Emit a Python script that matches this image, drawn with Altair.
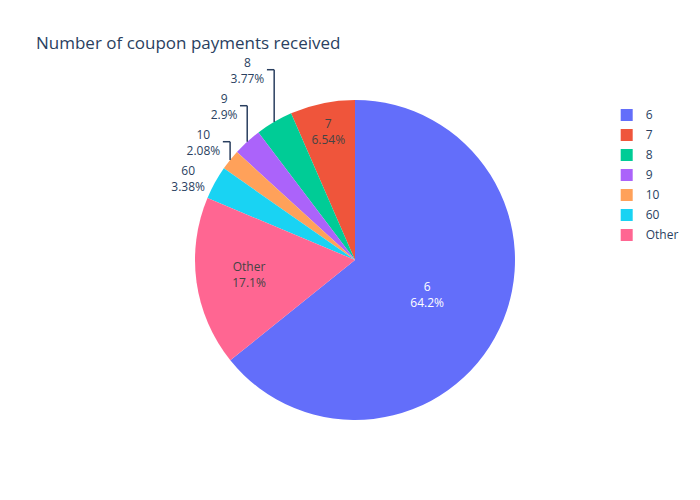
import math
import altair as alt
import pandas as pd

# ---------------- data ----------------
categories = ["6", "7", "8", "9", "10", "60", "Other"]
percents = [64.2, 6.54, 3.77, 2.9, 2.08, 3.38, 17.1]
colors = ["#636efa", "#EF553B", "#00cc96", "#ab63fa", "#FFA15A", "#19d3f3", "#FF6692"]
# drawing order, clockwise from 12 o'clock
clockwise_order = ["6", "Other", "60", "10", "9", "8", "7"]
inside_labels = ["6", "7", "Other"]
title_text = "Number of coupon payments received"

# ---------------- layout / style ----------------
PAD_TOP = 60
W, H = 684, 424
CX, CY = 347.0, 192.0          # pie centre in plot coords
R = 160.0
INSIDE_R = {"6": 80, "7": 131, "Other": 107}
FONT = "Open Sans"
FS = 12
LINE_H = 16
BOX_H = 35.0
STACK_GAP = 36.0
TEXT_DARK = "#2a3f5f"

CHAR_EM = {".": 0.266, "%": 0.846}
def text_width(s):
    return sum(CHAR_EM.get(c, 0.572) for c in s) * FS * 1.06

def is_dark(hexcol):
    h = hexcol.lstrip("#")
    r, g, b = int(h[0:2], 16), int(h[2:4], 16), int(h[4:6], 16)
    return (r * 299 + g * 587 + b * 114) / 1000 < 128

total = sum(percents)
pct = dict(zip(categories, percents))
col = dict(zip(categories, colors))
fmt = {c: f"{p:.3g}%" for c, p in zip(categories, percents)}

# angles
mid = {}
cum = 0.0
for c in clockwise_order:
    a0 = cum / total * 2 * math.pi
    cum += pct[c]
    a1 = cum / total * 2 * math.pi
    mid[c] = (a0 + a1) / 2

text_rows = []
outside = []
for c in categories:
    a = mid[c]
    label = f"{c}\n{fmt[c]}"
    if c in inside_labels:
        r = INSIDE_R[c]
        text_rows.append({"px": CX + r * math.sin(a), "py": CY - r * math.cos(a),
                          "txt": label, "tc": "white" if is_dark(col[c]) else "#444"})
    else:
        x = R * math.sin(a)
        y = -R * math.cos(a)
        w = max(text_width(c), text_width(fmt[c]))
        dx = w / 2 * (1 if x >= 0 else -1)
        dy = BOX_H / 2 * (1 if y >= 0 else -1)
        ox = dx + abs(dy) * (1 if dx > 0 else -1) / 2
        oy = dy / (1 + x * x / (y * y))
        outside.append({"c": c, "label": label, "mx": CX + x, "my": CY + y,
                        "lx": CX + x + ox, "ly0": CY + y + oy, "w": w,
                        "left": x < 0, "top": y < 0})

# resolve overlaps per quadrant
for left in (True, False):
    for top in (True, False):
        grp = [o for o in outside if o["left"] == left and o["top"] == top]
        grp.sort(key=lambda o: -o["ly0"] if top else o["ly0"])
        prev = None
        for o in grp:
            y = o["ly0"]
            if prev is not None:
                y = min(y, prev - STACK_GAP) if top else max(y, prev + STACK_GAP)
            o["ly"] = y
            prev = y

rule_rows = []
for o in outside:
    text_rows.append({"px": o["lx"], "py": o["ly"], "txt": o["label"], "tc": TEXT_DARK})
    if abs(o["ly"] - o["ly0"]) > 0.1:
        edge = o["lx"] + (o["w"] / 2 + 1.5) * (1 if o["left"] else -1)
        rule_rows.append({"x1": o["mx"], "y1": o["my"], "x2": o["mx"], "y2": o["ly"] - 1})
        rule_rows.append({"x1": o["mx"], "y1": o["ly"] - 1, "x2": edge, "y2": o["ly"] - 1})

df = pd.DataFrame({"category": categories, "percent": percents,
                   "order": [clockwise_order.index(c) for c in categories]})
tdf = pd.DataFrame(text_rows)
rdf = pd.DataFrame(rule_rows)

pie = alt.Chart(df).mark_arc(radius=R).encode(
    theta=alt.Theta("percent:Q", stack=True),
    order=alt.Order("order:Q"),
    color=alt.Color("category:N", sort=categories,
                    scale=alt.Scale(domain=categories, range=colors),
                    legend=alt.Legend(title=None, orient="none", legendX=612.7, legendY=41,
                                      symbolType="square", symbolSize=144, symbolStrokeWidth=0,
                                      labelFont=FONT, labelFontSize=12, labelColor=TEXT_DARK,
                                      labelOffset=13, rowPadding=8, padding=0)),
    x=alt.value(CX),
    y=alt.value(CY),
)

# multi-line text: first line sits on y, so lift the block by half its extra height
texts = alt.Chart(tdf).mark_text(font=FONT, fontSize=FS, lineBreak="\n", lineHeight=LINE_H,
                                 align="center", baseline="middle", dy=-LINE_H / 2).encode(
    x=alt.X("px:Q", scale=None, axis=None),
    y=alt.Y("py:Q", scale=None, axis=None),
    text="txt:N",
    fill=alt.Fill("tc:N", scale=None, legend=None),
)

rules = alt.Chart(rdf).mark_rule(color=TEXT_DARK, strokeWidth=1.5).encode(
    x=alt.X("x1:Q", scale=None, axis=None),
    y=alt.Y("y1:Q", scale=None, axis=None),
    x2="x2:Q",
    y2="y2:Q",
)

chart = alt.layer(pie, rules, texts).properties(
    width=W, height=H,
    autosize=alt.AutoSizeParams(type="none"),
    padding={"left": 0, "top": PAD_TOP, "right": 0, "bottom": 0},
    title=alt.TitleParams(text=title_text, anchor="start", frame="group", font=FONT,
                          fontSize=17, fontWeight="normal", color=TEXT_DARK,
                          dx=28, dy=28, offset=19, baseline="alphabetic"),
    background="white",
).configure_view(stroke=None)

chart.save("out.html", embed_options={"renderer": "svg", "actions": False})
